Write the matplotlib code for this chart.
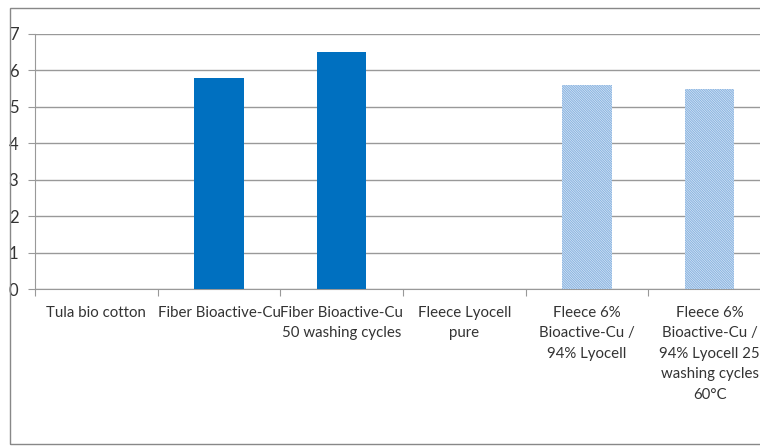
import matplotlib
matplotlib.use("Agg")
import matplotlib.pyplot as plt
from matplotlib.patches import Rectangle
import numpy as np

categories = ["Tula bio cotton", "Fiber Bioactive-Cu", "Fiber Bioactive-Cu\n50 washing cycles",
              "Fleece Lyocell\npure", "Fleece 6%\nBioactive-Cu /\n94% Lyocell",
              "Fleece 6%\nBioactive-Cu /\n94% Lyocell 25\nwashing cycles\n60°C"]
values = [0, 5.8, 6.5, 0, 5.6, 5.5]
hatched = [False, False, False, False, True, True]
yticks = [0, 1, 2, 3, 4, 5, 6, 7]

plt.rcParams['font.family'] = ['Lato', 'DejaVu Sans']
plt.rcParams['hatch.linewidth'] = 0.9

W, H = 760, 446
fig = plt.figure(figsize=(W/100, H/100), dpi=100)
left, right = 35, 771
top, bottom = 34, 289
ax = fig.add_axes([left/W, 1-bottom/H, (right-left)/W, (bottom-top)/H])

x = np.arange(len(categories))
solid_color = "#0070C0"
hatch_color = "#8DB6E2"
for xi, v, h in zip(x, values, hatched):
    if h:
        ax.bar(xi, v, width=0.4, facecolor="white", edgecolor=hatch_color,
               hatch="\\" * 14, linewidth=0, zorder=3)
    else:
        ax.bar(xi, v, width=0.4, color=solid_color, zorder=3)

ax.set_xlim(-0.5, len(categories)-0.5)
ax.set_ylim(0, 7)
ax.set_yticks(yticks)
ax.set_yticklabels([str(t) for t in yticks], fontsize=12, color="#333333")
ax.yaxis.grid(True, color="#999999", linewidth=1)
ax.set_axisbelow(True)

for s in ["top", "right"]:
    ax.spines[s].set_visible(False)
ax.spines["left"].set_color("#999999")
ax.spines["bottom"].set_color("#999999")
ax.tick_params(axis="y", length=5, color="#999999", pad=7)

ax.set_xticks(np.arange(len(categories)+1) - 0.5, minor=False)
ax.set_xticklabels([])
ax.tick_params(axis="x", which="major", length=5, color="#999999", direction="out")
ax.set_xticks(x, minor=True)
ax.set_xticklabels(categories, minor=True, fontsize=10.8, color="#333333",
                   linespacing=1.6, va="top")
ax.tick_params(axis="x", which="minor", length=0, pad=12)

fig.patches.append(Rectangle((10/W, 1-444/H), (W+20-10)/W, (444-8)/H,
                             transform=fig.transFigure, fill=False,
                             edgecolor="#888888", linewidth=1))

fig.savefig("out.png", dpi=100)
